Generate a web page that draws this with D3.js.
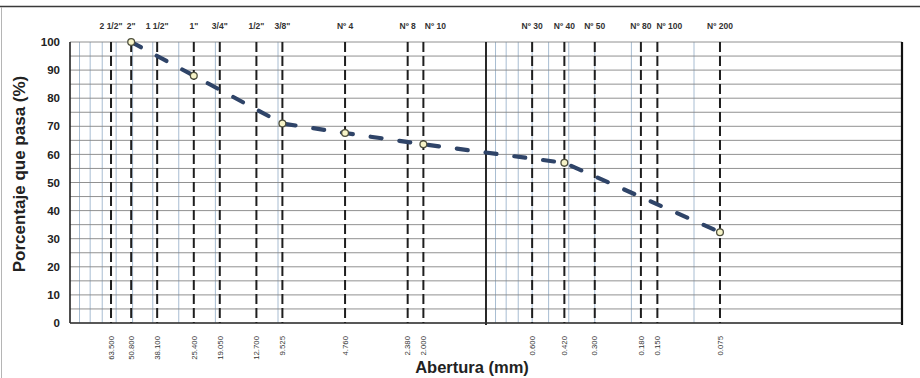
<!DOCTYPE html>
<html>
<head>
<meta charset="utf-8">
<script src="https://cdn.jsdelivr.net/npm/d3@7"></script>
<style>
  body { margin: 0; background: #fff; }
  svg { display: block; font-family: "Liberation Sans", Arial, sans-serif; }
</style>
</head>
<body>
<div id="chart"></div>
<script>
// sieve series (name on top, opening in mm, printed label at the bottom)
var sieveNames = ['2 1/2"', '2"', '1 1/2"', '1"', '3/4"', '1/2"', '3/8"', "Nº 4", "Nº 8", "Nº 10", "Nº 30", "Nº 40", "Nº 50", "Nº 80", "Nº 100", "Nº 200"];
var sieveOpenings = [63.5, 50.8, 38.1, 25.4, 19.05, 12.7, 9.525, 4.76, 2.38, 2.0, 0.6, 0.42, 0.3, 0.18, 0.15, 0.075];
var sieveLabels = ["63.500", "50.800", "38.100", "25.400", "19.050", "12.700", "9.525", "4.760", "2.380", "2.000", "0.600", "0.420", "0.300", "0.180", "0.150", "0.075"];

// grading curve
var curveOpenings = [50.8, 25.4, 9.525, 4.76, 2.0, 0.42, 0.075];
var curvePassing = [100, 88, 71, 67.6, 63.6, 57, 32.3];

var yTicks = [0, 10, 20, 30, 40, 50, 60, 70, 80, 90, 100];
var yGrid = [0, 5, 10, 15, 20, 25, 30, 35, 40, 45, 50, 55, 60, 65, 70, 75, 80, 85, 90, 95, 100];

function draw() {
  var W = 920, H = 378;
  var pLeft = 70, pRight = 902, pTop = 42, pBottom = 323;

  var x = d3.scaleLog().domain([100, 0.01]).range([pLeft, pRight]);
  var y = d3.scaleLinear().domain([0, 100]).range([pBottom, pTop]);

  var svg = d3.select("#chart").append("svg").attr("width", W).attr("height", H);

  // page frame (scan)
  svg.append("line").attr("x1", 0).attr("x2", W).attr("y1", 6.5).attr("y2", 6.5)
    .attr("stroke", "#3a3a3a").attr("stroke-width", 1.6);
  svg.append("line").attr("x1", 1.5).attr("x2", 1.5).attr("y1", 7).attr("y2", H)
    .attr("stroke", "#b5b5b5").attr("stroke-width", 1);

  /* minor log grid, only in the 100-10 and 1-0.1 decades */
  var minor = x.ticks().filter(function (v) {
    return (v > 10 && v < 100) || (v > 0.1 && v < 1) || v === 10 || v === 0.1;
  });
  svg.append("g").selectAll("line").data(minor).enter().append("line")
    .attr("x1", function (d) { return x(d); }).attr("x2", function (d) { return x(d); })
    .attr("y1", pTop).attr("y2", pBottom)
    .attr("stroke", "#a8bdd2").attr("stroke-width", 1);

  /* horizontal grid */
  svg.append("g").selectAll("line").data(yGrid).enter().append("line")
    .attr("x1", pLeft).attr("x2", pRight)
    .attr("y1", function (d) { return y(d); }).attr("y2", function (d) { return y(d); })
    .attr("stroke", "#858585").attr("stroke-width", 0.9);

  /* 1 mm decade line and frame */
  svg.append("line").attr("x1", x(1)).attr("x2", x(1)).attr("y1", pTop).attr("y2", pBottom + 2)
    .attr("stroke", "#111").attr("stroke-width", 1.8);
  svg.append("line").attr("x1", x(100)).attr("x2", x(100)).attr("y1", pTop).attr("y2", pBottom)
    .attr("stroke", "#222").attr("stroke-width", 1.6);
  svg.append("line").attr("x1", x(0.01)).attr("x2", x(0.01)).attr("y1", pTop).attr("y2", pBottom + 2)
    .attr("stroke", "#111").attr("stroke-width", 2.2);
  svg.append("line").attr("x1", pLeft).attr("x2", pRight).attr("y1", pBottom).attr("y2", pBottom)
    .attr("stroke", "#333").attr("stroke-width", 1.4);

  /* sieve lines */
  var sieves = sieveOpenings.map(function (d, i) {
    return { size: d, name: sieveNames[i], label: sieveLabels[i] };
  });
  svg.append("g").selectAll("line").data(sieves).enter().append("line")
    .attr("x1", function (d) { return x(d.size); }).attr("x2", function (d) { return x(d.size); })
    .attr("y1", pTop).attr("y2", pBottom)
    .attr("stroke", "#1e1e1e").attr("stroke-width", 2)
    .attr("stroke-dasharray", "10,4");

  // names on top; shift right when the previous sieve is too close
  svg.append("g").selectAll("text").data(sieves).enter().append("text")
    .attr("x", function (d, i) {
      var px = x(d.size);
      if (i > 0 && px - x(sieves[i - 1].size) < 18) px += 12;
      return px;
    })
    .attr("y", 29)
    .attr("text-anchor", "middle")
    .attr("font-size", "8.5px").attr("font-weight", "bold").attr("fill", "#333")
    .text(function (d) { return d.name; });

  // openings below, rotated
  svg.append("g").selectAll("text").data(sieves).enter().append("text")
    .attr("transform", function (d) { return "translate(" + x(d.size) + ",336) rotate(-90)"; })
    .attr("dy", "0.35em")
    .attr("text-anchor", "end")
    .attr("font-size", "7.8px").attr("fill", "#333")
    .text(function (d) { return d.label; });

  /* y tick labels */
  svg.append("g").selectAll("text").data(yTicks).enter().append("text")
    .attr("x", 60).attr("y", function (d) { return y(d); })
    .attr("dy", "0.36em").attr("text-anchor", "end")
    .attr("font-size", "11.5px").attr("font-weight", "bold").attr("fill", "#222")
    .text(function (d) { return d; });

  /* axis titles */
  svg.append("text")
    .attr("transform", "translate(25,174) rotate(-90)")
    .attr("text-anchor", "middle")
    .attr("font-size", "17px").attr("font-weight", "bold").attr("fill", "#222")
    .text("Porcentaje que pasa (%)");
  svg.append("text")
    .attr("x", 472).attr("y", 373)
    .attr("text-anchor", "middle")
    .attr("font-size", "16.5px").attr("font-weight", "bold").attr("fill", "#222")
    .text("Abertura (mm)");

  /* grading curve */
  var curve = curveOpenings.map(function (d, i) { return { size: d, pass: curvePassing[i] }; });
  var line = d3.line()
    .x(function (d) { return x(d.size); })
    .y(function (d) { return y(d.pass); });

  svg.append("path").datum(curve)
    .attr("d", line)
    .attr("fill", "none")
    .attr("stroke", "#2f4468").attr("stroke-width", 4.2)
    .attr("stroke-linecap", "round")
    .attr("stroke-dasharray", "11,18");

  svg.append("g").selectAll("circle").data(curve).enter().append("circle")
    .attr("cx", function (d) { return x(d.size); })
    .attr("cy", function (d) { return y(d.pass); })
    .attr("r", 3.4)
    .attr("fill", "#f7f4c8").attr("stroke", "#4f503e").attr("stroke-width", 1.3);
}

draw();
</script>
</body>
</html>
